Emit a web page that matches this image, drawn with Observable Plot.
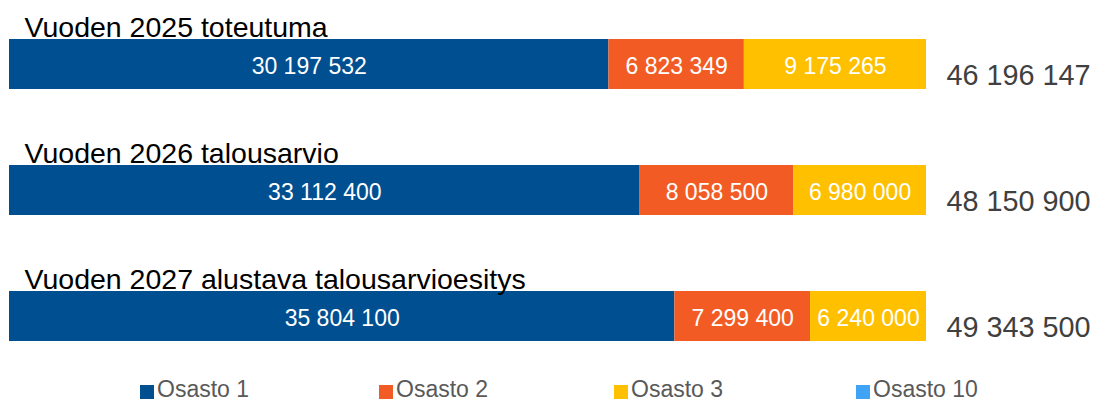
<!DOCTYPE html>
<html>
<head>
<meta charset="utf-8">
<script src="https://cdn.jsdelivr.net/npm/d3@7"></script>
<script src="https://cdn.jsdelivr.net/npm/@observablehq/plot@0.6"></script>
<style>
  html, body { margin: 0; padding: 0; background: #fff; }
  body { width: 1097px; height: 401px; overflow: hidden; font-family: "Liberation Sans", Arial, sans-serif; }
  #legend { position: relative; height: 29px; width: 1097px; }
  .item { position: absolute; top: 0; height: 29px; font-size: 23px; color: #595959; }
  .sw { position: absolute; top: 13px; width: 14px; height: 14px; }
  .lab { position: absolute; top: 6px; white-space: nowrap; line-height: 23px; }
</style>
</head>
<body>
<div id="chart"></div>
<div id="legend"></div>
<script>
const years = ["Vuoden 2025 toteutuma", "Vuoden 2026 talousarvio", "Vuoden 2027 alustava talousarvioesitys"];
const departments = ["Osasto 1", "Osasto 2", "Osasto 3", "Osasto 10"];
const colors = ["#004F91", "#F25C24", "#FFC000", "#3FA4F5"];
const osasto1 = [30197532, 33112400, 35804100];
const osasto2 = [6823349, 8058500, 7299400];
const osasto3 = [9175265, 6980000, 6240000];
const osasto10 = [0, 0, 0];
const totals = [46196147, 48150900, 49343500];

const series = [osasto1, osasto2, osasto3, osasto10];
const data = [];
years.forEach((y, i) => departments.forEach((d, j) => data.push({year: y, dept: d, value: series[j][i]})));
const totalRows = years.map((y, i) => ({year: y, total: totals[i]}));

const fmt = v => d3.format(",")(v).replace(/,/g, "\u00a0");
const font = "'Liberation Sans', Arial, sans-serif";

const chart = Plot.plot({
  width: 1097,
  height: 372,
  marginLeft: 9,
  marginRight: 171,
  style: {fontFamily: font, background: "white"},
  x: {domain: [0, 1], range: [9, 926], axis: null},
  y: {type: "band", domain: years, range: [38, 341], paddingInner: 0.605, paddingOuter: 0, axis: null},
  color: {domain: departments, range: colors},
  marks: [
    Plot.barX(data, Plot.stackX({x: "value", y: "year", fill: "dept", offset: "normalize", order: departments})),
    Plot.text(data.filter(d => d.value > 0), Plot.stackX({
      x: "value", y: "year", offset: "normalize", order: departments, z: "dept",
      text: d => fmt(d.value), fill: "white", fontSize: 23, dy: 2
    })),
    Plot.text(totalRows, {x: () => 1, y: "year", text: d => fmt(d.total), textAnchor: "start", dx: 20, dy: 11, fontSize: 28.8, fill: "#404040"}),
    Plot.text(years, {x: () => 0, y: d => d, text: d => d, textAnchor: "start", lineAnchor: "bottom", dx: 15, dy: -28, fontSize: 28.5, fill: "#000"})
  ]
});
document.getElementById("chart").appendChild(chart);

const legendPos = [140, 379, 614, 856];
const legend = document.getElementById("legend");
departments.forEach((d, i) => {
  const it = document.createElement("div");
  it.className = "item";
  it.style.left = legendPos[i] + "px";
  it.innerHTML = `<div class="sw" style="background:${colors[i]}"></div><div class="lab" style="left:17px">${d}</div>`;
  legend.appendChild(it);
});
</script>
</body>
</html>
